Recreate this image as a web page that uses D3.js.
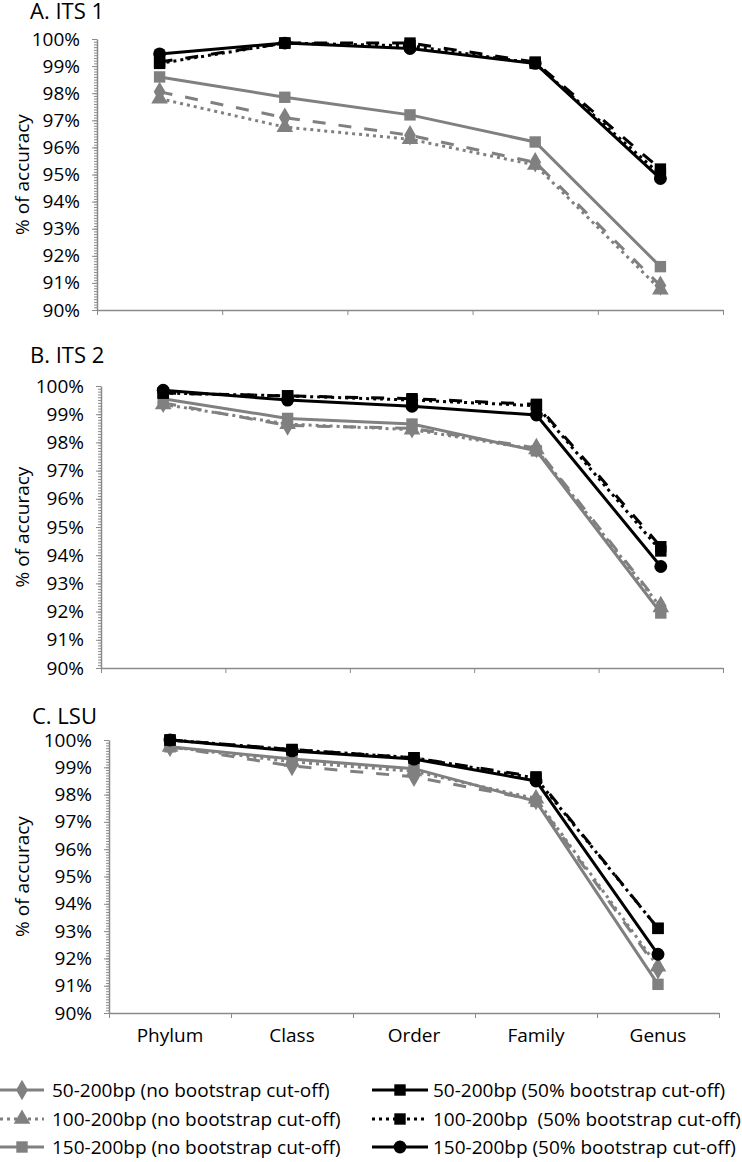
<!DOCTYPE html>
<html>
<head>
<meta charset="utf-8">
<script src="https://cdn.jsdelivr.net/npm/d3@7"></script>
<style>
  body { margin: 0; background: #fff; }
  text { font-family: "Open Sans", sans-serif; fill: #000; white-space: pre; }
</style>
</head>
<body>
<div id="container"></div>
<script>
const categories = ['Phylum', 'Class', 'Order', 'Family', 'Genus'];
const seriesNames = [
    '50-200bp (no bootstrap cut-off)',
    '100-200bp (no bootstrap cut-off)',
    '150-200bp (no bootstrap cut-off)',
    '50-200bp (50% bootstrap cut-off)',
    '100-200bp  (50% bootstrap cut-off)',
    '150-200bp (50% bootstrap cut-off)'
];
const yTicks = [90, 91, 92, 93, 94, 95, 96, 97, 98, 99, 100];

// % of accuracy, one row per series, in seriesNames order
const its1Values = [
    [98.05, 97.1, 96.45, 95.45, 90.9],
    [97.8, 96.75, 96.3, 95.35, 90.75],
    [98.6, 97.85, 97.2, 96.2, 91.6],
    [99.15, 99.85, 99.85, 99.15, 95.2],
    [99.1, 99.85, 99.75, 99.1, 95.0],
    [99.45, 99.85, 99.65, 99.1, 94.85]
];
const its2Values = [
    [99.4, 98.6, 98.5, 97.8, 92.2],
    [99.35, 98.65, 98.45, 97.75, 92.15],
    [99.55, 98.85, 98.65, 97.7, 91.95],
    [99.75, 99.65, 99.55, 99.35, 94.3],
    [99.75, 99.65, 99.5, 99.3, 94.15],
    [99.85, 99.5, 99.28, 98.97, 93.6]
];
const lsuValues = [
    [99.75, 99.05, 98.65, 97.8, 91.6],
    [99.75, 99.2, 98.85, 97.85, 91.7],
    [99.75, 99.3, 98.95, 97.75, 91.05],
    [100.0, 99.65, 99.35, 98.65, 93.1],
    [100.0, 99.65, 99.35, 98.6, 93.1],
    [100.0, 99.6, 99.3, 98.5, 92.15]
];

const GRAY = '#808080';
const AXIS = '#8a8a8a';
const styles = [
    { color: GRAY, dash: '13,13', marker: 'diamond' },
    { color: GRAY, dash: '3,4', marker: 'triangle' },
    { color: GRAY, dash: null, marker: 'square' },
    { color: '#000', dash: '13,13', marker: 'square' },
    { color: '#000', dash: '3,4', marker: 'square' },
    { color: '#000', dash: null, marker: 'circle' }
];
const symbolTypes = {
    diamond: d3.symbolDiamond,
    triangle: d3.symbolTriangle,
    square: d3.symbolSquare,
    circle: d3.symbolCircle
};
const symbolSizes = { diamond: 120, triangle: 120, square: 130, circle: 130 };

const panels = [
    { title: 'A. ITS 1', values: its1Values, x0: 97, x1: 723, top: 39, bottom: 310, titleY: 19, titleX: 30 },
    { title: 'B. ITS 2', values: its2Values, x0: 101, x1: 723, top: 386, bottom: 668, titleY: 363, titleX: 30 },
    { title: 'C. LSU', values: lsuValues, x0: 109, x1: 719, top: 740, bottom: 1013, titleY: 724, titleX: 32 }
];

const svg = d3.select('#container').append('svg')
    .attr('width', 742)
    .attr('height', 1162);

function symbolPath(type) {
    return d3.symbol().type(symbolTypes[type]).size(symbolSizes[type])();
}

function drawPanel(p, showLabels) {
    const g = svg.append('g');
    const x = d3.scaleBand().domain(categories).range([p.x0, p.x1]);
    const y = d3.scaleLinear().domain([90, 100]).range([p.bottom, p.top]);

    g.append('text')
        .attr('x', p.titleX)
        .attr('y', p.titleY)
        .style('font-size', '22px')
        .text(p.title);

    // minor ticks every 0.1%
    g.append('g')
        .attr('transform', `translate(${p.x0},0)`)
        .call(d3.axisLeft(y).tickValues(d3.range(900, 1001).map(d => d / 10)).tickSize(3).tickFormat(''))
        .call(a => a.select('.domain').remove())
        .call(a => a.selectAll('line').attr('stroke', AXIS));

    g.append('g')
        .attr('transform', `translate(${p.x0},0)`)
        .call(d3.axisLeft(y).tickValues(yTicks).tickSize(5).tickSizeOuter(0).tickPadding(12).tickFormat(d => d + '%'))
        .call(a => a.select('.domain').attr('stroke', AXIS).attr('stroke-width', 1.5))
        .call(a => a.selectAll('line').attr('stroke', AXIS))
        .call(a => a.selectAll('text').style('font-size', '19px').attr('fill', '#000'));

    const xb = d3.scaleLinear().domain([0, categories.length]).range([p.x0, p.x1]);
    g.append('g')
        .attr('transform', `translate(0,${p.bottom})`)
        .call(d3.axisBottom(xb).tickValues(d3.range(categories.length + 1)).tickSize(5).tickSizeOuter(0).tickFormat(''))
        .call(a => a.select('.domain').attr('stroke', AXIS).attr('stroke-width', 1.5))
        .call(a => a.selectAll('line').attr('stroke', AXIS));

    if (showLabels) {
        g.append('g')
            .attr('transform', `translate(0,${p.bottom})`)
            .call(d3.axisBottom(x).tickSize(0).tickPadding(16))
            .call(a => a.select('.domain').remove())
            .call(a => a.selectAll('text').style('font-size', '19px').attr('fill', '#000'));
    }

    g.append('text')
        .attr('transform', `translate(29,${(p.top + p.bottom) / 2}) rotate(-90)`)
        .attr('text-anchor', 'middle')
        .style('font-size', '19px')
        .text('% of accuracy');

    const line = d3.line()
        .x((d, i) => x(categories[i]) + x.bandwidth() / 2)
        .y(d => y(d));

    p.values.forEach((vals, si) => {
        const s = styles[si];
        g.append('path')
            .datum(vals)
            .attr('d', line)
            .attr('fill', 'none')
            .attr('stroke', s.color)
            .attr('stroke-width', 3)
            .attr('stroke-dasharray', s.dash);
        g.append('g')
            .selectAll('path')
            .data(vals)
            .enter()
            .append('path')
            .attr('transform', (d, i) => `translate(${x(categories[i]) + x.bandwidth() / 2},${y(d)})`)
            .attr('d', symbolPath(s.marker))
            .attr('fill', s.color);
    });
}

function drawLegend() {
    const rows = [1090, 1119, 1147];
    const cols = [{ x0: 0, x1: 44, text: 52 }, { x0: 372, x1: 428, text: 433 }];
    seriesNames.forEach((name, i) => {
        const c = cols[Math.floor(i / 3)];
        const cy = rows[i % 3];
        const s = styles[i];
        const g = svg.append('g');
        g.append('line')
            .attr('x1', c.x0).attr('x2', c.x1)
            .attr('y1', cy).attr('y2', cy)
            .attr('stroke', s.color)
            .attr('stroke-width', 3)
            .attr('stroke-dasharray', s.dash === '3,4' ? '3,4' : null);
        g.append('path')
            .attr('transform', `translate(${(c.x0 + c.x1) / 2},${cy})`)
            .attr('d', symbolPath(s.marker))
            .attr('fill', s.color);
        g.append('text')
            .attr('x', c.text)
            .attr('y', cy)
            .attr('dy', '0.35em')
            .style('font-size', '19px')
            .text(name);
    });
}

panels.forEach((p, i) => drawPanel(p, i === panels.length - 1));
drawLegend();
</script>
</body>
</html>
